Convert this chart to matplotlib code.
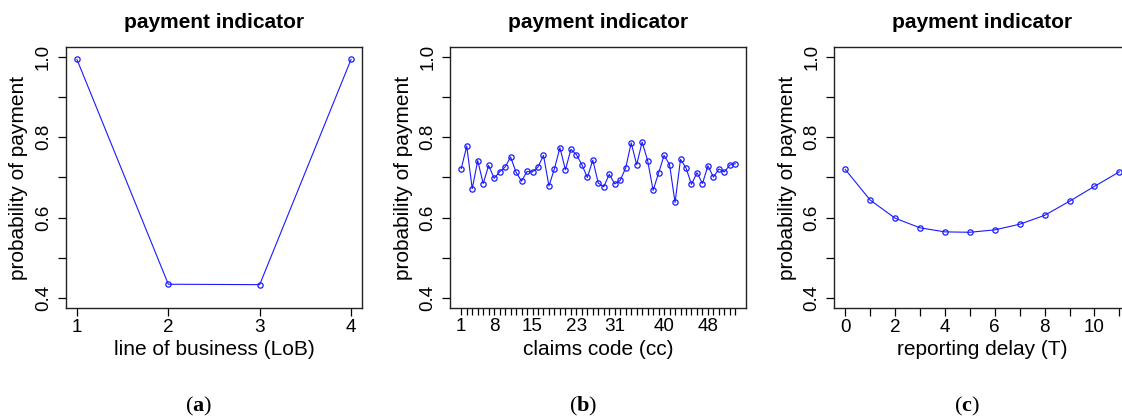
import numpy as np
import matplotlib
matplotlib.use("Agg")
import matplotlib.pyplot as plt

plt.rcParams['font.family'] = ['Liberation Sans', 'DejaVu Sans']
plt.rcParams['mathtext.fontset'] = 'custom'
plt.rcParams['mathtext.rm'] = 'Liberation Serif'
plt.rcParams['mathtext.bf'] = 'Liberation Serif:bold'

# panel (a): line of business
lob = [1, 2, 3, 4]
p_lob = [0.993, 0.435, 0.434, 0.993]

# panel (b): claims code (51 codes, two codes missing out of 1..53)
cc_codes = [c for c in range(1, 54) if c not in (4, 27)]
p_cc = [0.722, 0.778, 0.672, 0.742, 0.685, 0.730, 0.698, 0.714, 0.726, 0.751,
        0.713, 0.691, 0.715, 0.714, 0.726, 0.755, 0.679, 0.722, 0.774, 0.719,
        0.770, 0.757, 0.732, 0.700, 0.743, 0.686, 0.677, 0.708, 0.684, 0.693,
        0.724, 0.786, 0.732, 0.788, 0.742, 0.668, 0.711, 0.755, 0.732, 0.638,
        0.745, 0.724, 0.683, 0.712, 0.685, 0.729, 0.701, 0.721, 0.714, 0.731,
        0.734]
cc_shown = [1, 8, 15, 23, 31, 40, 48]

# panel (c): reporting delay
delay = list(range(12))
p_delay = [0.720, 0.644, 0.599, 0.575, 0.565, 0.564, 0.570, 0.584, 0.606,
           0.641, 0.678, 0.714]

yticks = [0.4, 0.5, 0.6, 0.7, 0.8, 0.9, 1.0]
ylabs = ['0.4', '', '0.6', '', '0.8', '', '1.0']

W, H = 1122, 419
fig = plt.figure(figsize=(W / 100, H / 100), dpi=100)

def make_ax(left_px):
    ax = fig.add_axes([left_px / W, (H - 308) / H, 296 / W, 261 / H])
    ax.set_ylim(0.376, 1.024)
    ax.set_yticks(yticks)
    ax.set_yticklabels(ylabs, rotation=90, va='center')
    ax.tick_params(direction='out', length=6, width=0.9, labelsize=13.6, pad=2)
    ax.tick_params(axis='y', pad=4)
    for s in ax.spines.values():
        s.set_linewidth(1.0)
        s.set_color('#222222')
    ax.set_ylabel('probability of payment', fontsize=15)
    ax.yaxis.set_label_coords(-0.127, 0.5)
    return ax

def draw(ax, x, y):
    ax.plot(x, y, color='#1a1aff', lw=0.8, marker='o', ms=3.8, mfc='none',
            mec='#1a1aff', mew=0.9)

# (a)
ax1 = make_ax(66)
draw(ax1, lob, p_lob)
ax1.set_xlim(0.88, 4.12)
ax1.set_xticks(lob)
ax1.set_xlabel('line of business (LoB)', fontsize=15)

# (b)
ax2 = make_ax(450.3)
idx = np.arange(1, len(cc_codes) + 1)
draw(ax2, idx, p_cc)
ax2.set_xlim(-1, len(cc_codes) + 2)
ax2.set_xticks(idx)
ax2.set_xticklabels([str(c) if c in cc_shown else '' for c in cc_codes])
ax2.tick_params(axis='x', length=5)
ax2.set_xlabel('claims code (cc)', fontsize=15)

# (c)
ax3 = make_ax(834.3)
draw(ax3, delay, p_delay)
ax3.set_xlim(-0.44, 11.44)
ax3.set_xticks(delay)
ax3.set_xticklabels([str(d) if d % 2 == 0 else '' for d in delay])
ax3.set_xlabel('reporting delay (T)', fontsize=15)

for ax in (ax1, ax2, ax3):
    ax.xaxis.set_label_coords(0.5, -0.123)
    fig.text(ax.get_position().x0 + 296 / W / 2, 1 - 22.7 / H, 'payment indicator',
             ha='center', va='center', fontsize=15, fontweight='bold')

for lab, xc in (('a', 199), ('b', 583), ('c', 967)):
    fig.text(xc / W, 1 - 406 / H, r'$(\mathbf{%s})$' % lab, ha='center',
             va='center', fontsize=16)

fig.savefig('out.png', dpi=100)
